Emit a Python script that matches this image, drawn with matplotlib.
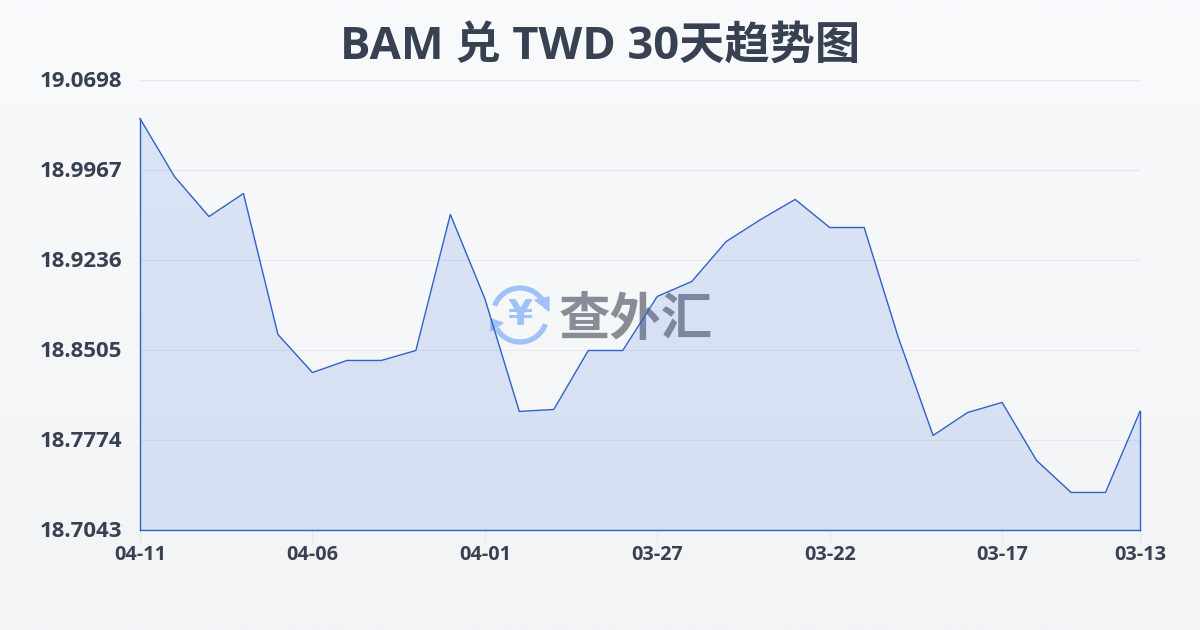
import numpy as np
import matplotlib
matplotlib.use("Agg")
import matplotlib.pyplot as plt
from matplotlib.patches import Arc, Polygon
from matplotlib.transforms import ScaledTranslation

plt.rcParams['font.family'] = ['Open Sans', 'Noto Sans CJK SC', 'DejaVu Sans']

dates = ["04-11", "04-10", "04-09", "04-08", "04-07", "04-06", "04-05", "04-04", "04-03", "04-02",
         "04-01", "03-31", "03-30", "03-29", "03-28", "03-27", "03-26", "03-25", "03-24", "03-23",
         "03-22", "03-21", "03-20", "03-19", "03-18", "03-17", "03-16", "03-15", "03-14", "03-13"]
rates = [19.0385, 18.9914, 18.9589, 18.9776, 18.8631, 18.8322, 18.8420, 18.8420, 18.8501, 18.9606,
         18.8923, 18.8006, 18.8022, 18.8501, 18.8501, 18.8940, 18.9061, 18.9386, 18.9565, 18.9728,
         18.9500, 18.9500, 18.8599, 18.7811, 18.7997, 18.8079, 18.7608, 18.7348, 18.7348, 18.8006]
y_ticks = [19.0698, 18.9967, 18.9236, 18.8505, 18.7774, 18.7043]
x_tick_idx = [0, 5, 10, 15, 20, 25, 29]

dark = "#374151"
line_col = "#2f62c8"
grid_col = "#e5e8ec"

fig = plt.figure(figsize=(12, 6.3), dpi=100)

# background + watermark, in pixel coords
bg = fig.add_axes([0, 0, 1, 1], zorder=0)
grad = np.linspace(0, 1, 256).reshape(-1, 1)
c1 = np.array([0xf8, 0xfa, 0xfc]) / 255
c2 = np.array([0xf2, 0xf4, 0xf6]) / 255
bg.imshow(c1 + (c2 - c1) * grad[..., None], extent=[0, 1200, 630, 0], aspect="auto")
bg.set_xlim(0, 1200)
bg.set_ylim(630, 0)
bg.axis("off")

logo = "#9fc2fa"
bg.add_patch(Arc((520, 315), 54, 54, theta1=200, theta2=335, color=logo, lw=3.8))
bg.add_patch(Arc((520, 315), 54, 54, theta1=20, theta2=150, color=logo, lw=3.8))
bg.add_patch(Polygon([[535, 300], [549, 297], [549, 311]], color=logo))
bg.add_patch(Polygon([[491, 319], [503, 323], [491, 331]], color=logo))
bg.text(520, 315, "¥", fontsize=26, fontweight="bold", color=logo, ha="center", va="center",
        family=["DejaVu Sans"])
bg.text(636, 319, "查外汇", fontsize=37, fontweight="bold", color="#888c96", ha="center", va="center",
        family=["Noto Sans CJK SC"])

ax = fig.add_axes([140 / 1200, 100 / 630, 1000 / 1200, 450 / 630], zorder=1)
ax.patch.set_alpha(0)
x = np.arange(len(rates))
ax.fill_between(x, rates, y_ticks[-1], color="#3b6edc", alpha=0.15, lw=0)
ax.plot(x, rates, color=line_col, lw=1.0, clip_on=False)
ax.plot([0, 0], [y_ticks[-1], rates[0]], color=line_col, lw=1.0, clip_on=False)
ax.plot([29, 29], [y_ticks[-1], rates[-1]], color=line_col, lw=1.0, clip_on=False)
ax.plot([0, 29], [y_ticks[-1], y_ticks[-1]], color=line_col, lw=1.0, clip_on=False)

ax.set_xlim(0, 29)
ax.set_ylim(y_ticks[-1], y_ticks[0])
ax.set_yticks(y_ticks)
ax.set_yticklabels([f"{v:.4f}" for v in y_ticks])
ax.set_xticks(x_tick_idx)
ax.set_xticklabels([dates[i] for i in x_tick_idx])
ax.grid(axis="y", color=grid_col, lw=0.8)
ax.set_axisbelow(True)
for s in ax.spines.values():
    s.set_visible(False)
ax.tick_params(axis="y", length=0, pad=13, labelsize=16, labelcolor=dark)
ax.tick_params(axis="x", length=10, width=0.8, color="#e5e7eb", pad=1, labelsize=14.3, labelcolor=dark)
up = ScaledTranslation(0, 1.5 / 100, fig.dpi_scale_trans)
for lab in ax.get_yticklabels():
    lab.set_fontweight("bold")
    lab.set_transform(lab.get_transform() + up)
for lab in ax.get_xticklabels():
    lab.set_fontweight("bold")

fig.text(0.5, 1 - 48.5 / 630, "BAM 兑 TWD 30天趋势图", fontsize=32.6, fontweight="bold", color=dark,
         ha="center", va="center")

fig.savefig("out.png", dpi=100)
